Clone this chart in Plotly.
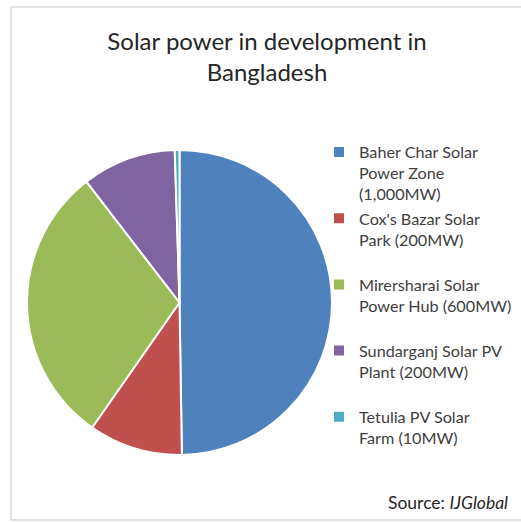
import plotly.graph_objects as go

labels = [
    "Baher Char Solar<br>Power Zone<br>(1,000MW)",
    "Cox's Bazar Solar<br>Park (200MW)<br> ",
    "Mirersharai Solar<br>Power Hub (600MW)<br> ",
    "Sundarganj Solar PV<br>Plant (200MW)<br> ",
    "Tetulia PV Solar<br>Farm (10MW)<br> ",
]
values = [1000, 200, 600, 200, 10]
colors = ["#4F81BD", "#C0504D", "#9BBB59", "#8064A2", "#4BACC6"]

W, H = 521, 522
font = "Lato"

fig = go.Figure(go.Pie(
    labels=labels,
    values=values,
    sort=False,
    direction="clockwise",
    rotation=0,
    marker=dict(colors=colors, line=dict(color="white", width=2)),
    textinfo="none",
    hoverinfo="label+value",
    domain=dict(x=[26 / W, 333 / W], y=[1 - 455 / H, 1 - 150 / H]),
))

fig.update_layout(
    width=W, height=H,
    margin=dict(l=0, r=0, t=0, b=0, autoexpand=False),
    paper_bgcolor="white",
    plot_bgcolor="white",
    font=dict(family=font, color="#404040"),
    title=dict(
        text="Solar power in development in<br>Bangladesh",
        x=267 / W, xanchor="center",
        y=1 - 50 / H, yanchor="top",
        font=dict(family=font, size=24, color="#262626"),
    ),
    legend=dict(
        x=319 / W, xanchor="left",
        y=1 - 135 / H, yanchor="top",
        valign="top",
        font=dict(family=font, size=16.2, color="#404040"),
        itemwidth=30,
        tracegroupgap=0,
        bgcolor="rgba(0,0,0,0)",
    ),
    showlegend=True,
    annotations=[dict(
        text="Source: <i>IJGlobal</i>",
        x=510 / W, xanchor="right",
        y=1 - 502 / H, yanchor="middle",
        xref="paper", yref="paper",
        showarrow=False,
        font=dict(family=font, size=17.5, color="#262626"),
    )],
    shapes=[
        dict(type="line", xref="paper", yref="paper", x0=11 / W, x1=11 / W, y0=1 - 7 / H, y1=1 - 520 / H,
             line=dict(color="#D9D9D9", width=1.5)),
        dict(type="line", xref="paper", yref="paper", x0=11 / W, x1=1, y0=1 - 7 / H, y1=1 - 7 / H,
             line=dict(color="#D9D9D9", width=1.5)),
        dict(type="line", xref="paper", yref="paper", x0=11 / W, x1=1, y0=1 - 520 / H, y1=1 - 520 / H,
             line=dict(color="#D9D9D9", width=1.5)),
    ],
)

fig.write_html(
    "out.html",
    config={"displayModeBar": False},
    post_script="document.body.style.margin='0';document.body.style.overflow='hidden';",
)
